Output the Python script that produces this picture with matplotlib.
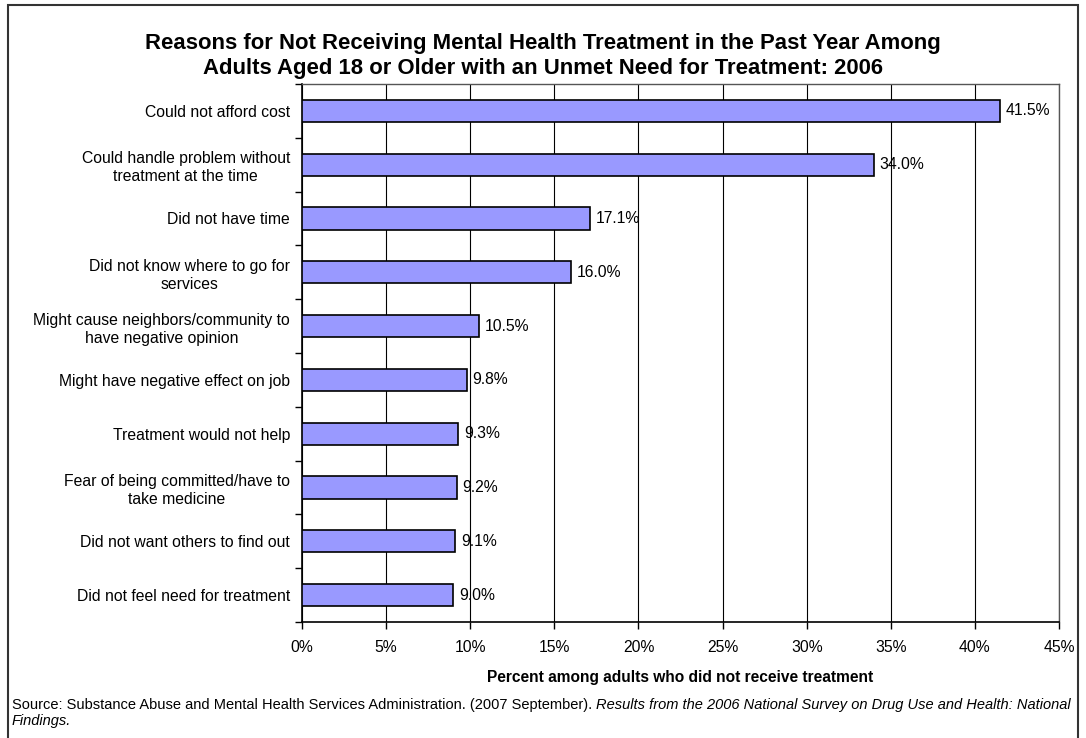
import matplotlib.pyplot as plt
from matplotlib.patches import Rectangle
from matplotlib.ticker import FuncFormatter, MultipleLocator

plt.rcParams['font.family'] = ['Liberation Sans', 'DejaVu Sans']

# DATA

reasons = [
    "Could not afford cost",
    "Could handle problem without\ntreatment at the time",
    "Did not have time",
    "Did not know where to go for\nservices",
    "Might cause neighbors/community to\nhave negative opinion",
    "Might have negative effect on job",
    "Treatment would not help",
    "Fear of being committed/have to\ntake medicine",
    "Did not want others to find out",
    "Did not feel need for treatment",
]

percents = [41.5, 34.0, 17.1, 16.0, 10.5, 9.8, 9.3, 9.2, 9.1, 9.0]

title = ("Reasons for Not Receiving Mental Health Treatment in the Past Year Among\n"
         "Adults Aged 18 or Older with an Unmet Need for Treatment: 2006")

source_plain = "Source: Substance Abuse and Mental Health Services Administration. (2007 September). "
source_italic = "Results from the 2006 National Survey on Drug Use and Health: National"
source_italic2 = "Findings."

W, H = 1086, 738

# FIGURE

fig = plt.figure(figsize=(W / 100, H / 100), dpi=100)
fig.patch.set_facecolor("white")

ax = fig.add_axes([302 / W, 1 - 622 / H, (1059 - 302) / W, (622 - 84) / H])

y_pos = list(range(len(reasons)))

ax.barh(
    y_pos,
    percents,
    height=0.41,
    color="#9999FF",
    edgecolor="black",
    linewidth=1.2,
    zorder=3
)

for y, v in zip(y_pos, percents):
    ax.text(v + 0.35, y, f"{v:.1f}%", va="center", ha="left",
            fontsize=11.3, zorder=4)

ax.set_xlim(0, 45)
ax.set_ylim(len(reasons) - 0.5, -0.5)

ax.xaxis.set_major_locator(MultipleLocator(5))
ax.xaxis.set_major_formatter(FuncFormatter(lambda v, p: f"{v:.0f}%"))
ax.grid(axis="x", color="black", linewidth=0.8, zorder=0)

ax.set_yticks(y_pos)
ax.set_yticklabels(reasons, fontsize=11.3, ha="right",
                   multialignment="center", linespacing=1.25)
ax.set_yticks([i - 0.5 for i in range(len(reasons) + 1)], minor=True)
ax.tick_params(axis="y", which="major", length=0, pad=8.6)
ax.tick_params(axis="y", which="minor", length=5, width=1, direction="out")
ax.tick_params(axis="x", labelsize=11.3, length=5, width=1, pad=8)

for side in ["top", "right"]:
    ax.spines[side].set_color("#555555")
    ax.spines[side].set_linewidth(1)
ax.spines["left"].set_linewidth(1.2)
ax.spines["bottom"].set_linewidth(1.2)

ax.set_xlabel("Percent among adults who did not receive treatment",
              fontsize=11.2, fontweight="bold", labelpad=11)

fig.text(0.5, 1 - 56 / H, title, ha="center", va="center",
         fontsize=15.9, fontweight="bold", linespacing=1.2)

t1 = fig.text(12 / W, 1 - 705 / H, source_plain,
              fontsize=10.55, va="center", ha="left")
fig.canvas.draw()
bb = t1.get_window_extent()
fig.text(bb.x1 / W, 1 - 705 / H, source_italic,
         fontsize=10.55, va="center", ha="left", style="italic")
fig.text(12 / W, 1 - 721 / H, source_italic2,
         fontsize=10.55, va="center", ha="left", style="italic")

# outer border
fig.patches.append(Rectangle((8 / W, -0.01), 1070 / W, 1 - 5 / H + 0.01,
                             transform=fig.transFigure, fill=False,
                             edgecolor="#333333", linewidth=1.5))

plt.savefig("out.png", dpi=100)
plt.close()
